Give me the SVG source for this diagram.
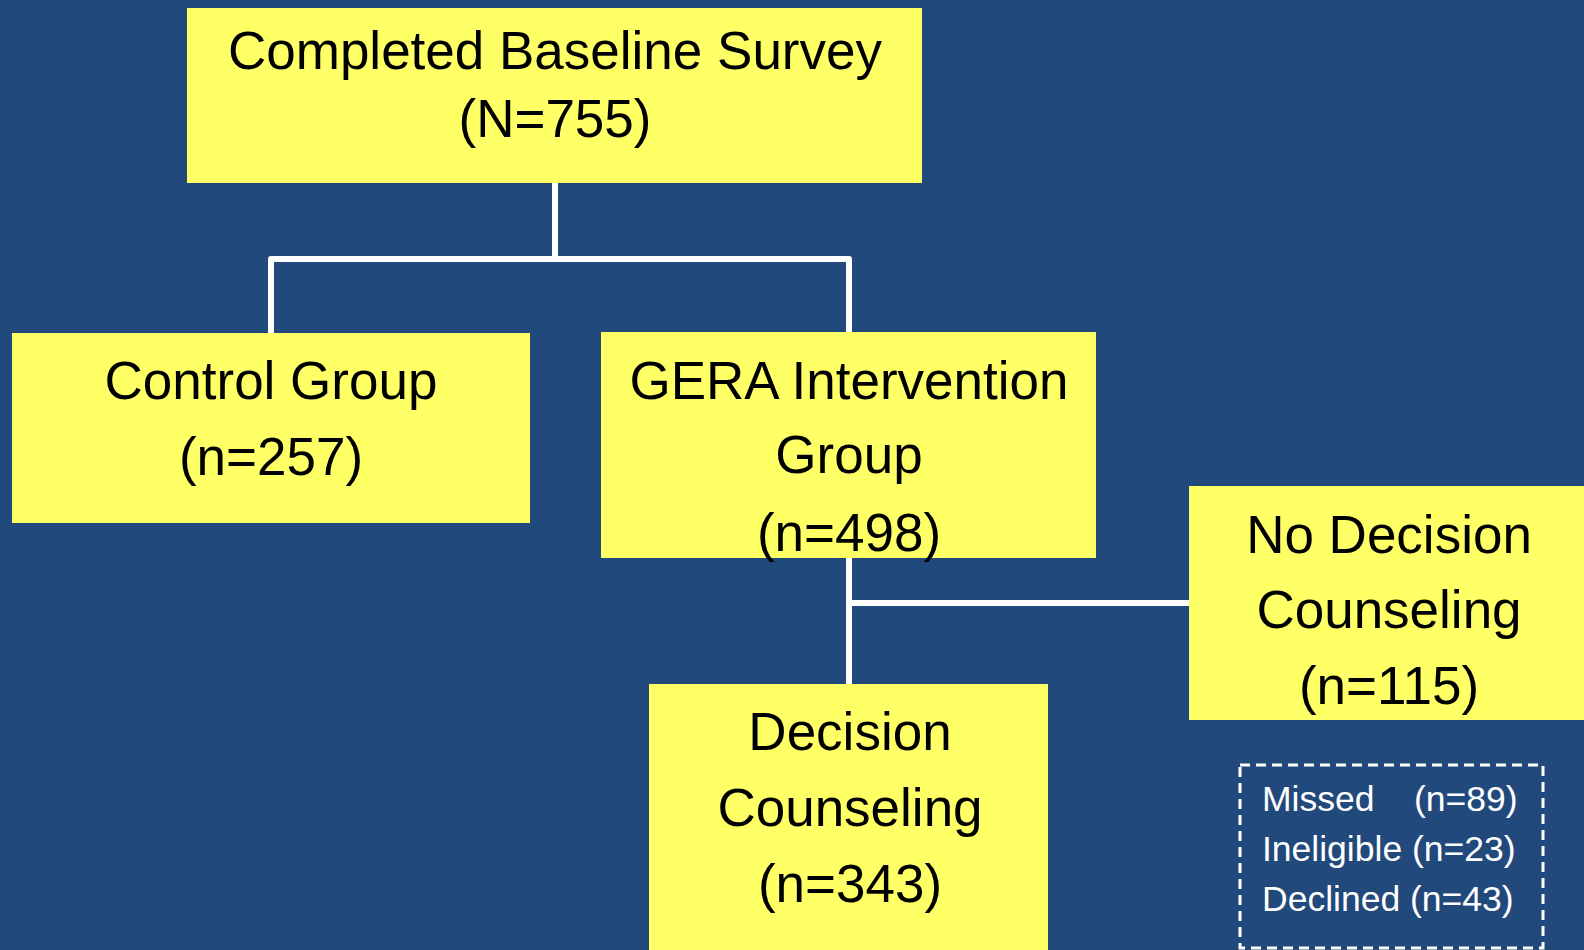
<svg xmlns="http://www.w3.org/2000/svg" width="1584" height="950" viewBox="0 0 1584 950">
<style>
.box{fill:#FFFF66}
.t{font-family:"Liberation Sans",Arial,sans-serif;font-size:53px;fill:#000;text-anchor:middle}
.w{font-family:"Liberation Sans",Arial,sans-serif;font-size:35.5px;fill:#fff}
.c{fill:none;stroke:#fff;stroke-width:6;stroke-linejoin:round}
</style>
<rect width="1584" height="950" fill="#21497B"/>
<g id="connectors">
<path class="c" d="M555,183 V259"/>
<path class="c" d="M271,333 V259 H849 V332"/>
<path class="c" d="M849,558 V684"/>
<path class="c" d="M849,603 H1189"/>
</g>
<g id="baseline">
<rect class="box" x="187" y="8" width="735" height="175"/>
<text class="t" x="555" y="69">Completed Baseline Survey</text>
<text class="t" x="555" y="137">(N=755)</text>
</g>
<g id="control">
<rect class="box" x="12" y="333" width="518" height="190"/>
<text class="t" x="271" y="399">Control Group</text>
<text class="t" x="271" y="475">(n=257)</text>
</g>
<g id="gera">
<rect class="box" x="601" y="332" width="495" height="226"/>
<text class="t" x="849" y="399">GERA Intervention</text>
<text class="t" x="849" y="473">Group</text>
<text class="t" x="849" y="551">(n=498)</text>
</g>
<g id="nodecision">
<rect class="box" x="1189" y="486" width="395" height="234"/>
<text class="t" x="1389" y="553">No Decision</text>
<text class="t" x="1389" y="628">Counseling</text>
<text class="t" x="1389" y="704">(n=115)</text>
</g>
<g id="decision">
<rect class="box" x="649" y="684" width="399" height="266"/>
<text class="t" x="850" y="750">Decision</text>
<text class="t" x="850" y="826">Counseling</text>
<text class="t" x="850" y="902">(n=343)</text>
</g>
<g id="reasons">
<rect x="1240" y="765" width="303" height="183" fill="none" stroke="#fff" stroke-width="3" stroke-dasharray="10 6"/>
<text class="w" x="1262" y="811">Missed</text>
<text class="w" x="1414" y="811">(n=89)</text>
<text class="w" x="1262" y="861">Ineligible (n=23)</text>
<text class="w" x="1262" y="911">Declined (n=43)</text>
</g>
</svg>
